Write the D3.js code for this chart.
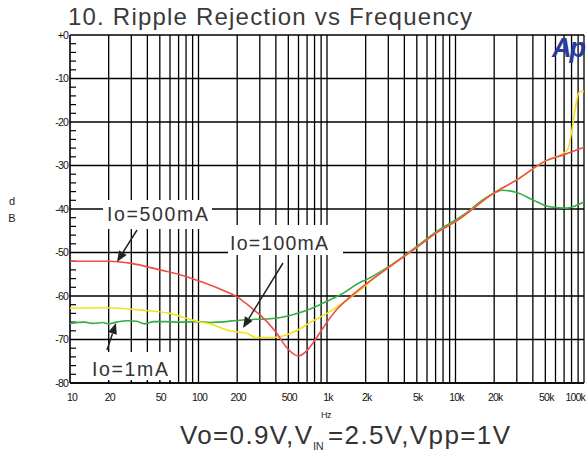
<!DOCTYPE html>
<html><head><meta charset="utf-8">
<script src="https://cdn.jsdelivr.net/npm/d3@7"></script>
<style>
html,body{margin:0;padding:0;background:#fff;}
svg{display:block;font-family:"Liberation Sans",Arial,sans-serif;}
</style></head>
<body><svg id="c" width="586" height="455"></svg>
<script>
// ---- data ----
const xTickValues = [10,20,50,100,200,500,1000,2000,5000,10000,20000,50000,100000];
const xTickLabels = ["10","20","50","100","200","500","1k","2k","5k","10k","20k","50k","100k"];
const yTickValues = [0,-10,-20,-30,-40,-50,-60,-70,-80];
const yTickLabels = ["+0","-10","-20","-30","-40","-50","-60","-70","-80"];

const redFreq = [10,20,30,50,70,100,150,200,265,300,400,500,600,700,800,900,1000,1200,1500,2000,3000,5000,7000,10000,20000,30000,50000,70000,100000];
const redDb   = [-52,-52,-52.5,-54,-55,-56.5,-58.5,-60.2,-63,-64.3,-68.3,-72.3,-73.8,-72.5,-70.3,-68,-66,-63,-60.3,-57.3,-53.5,-48.8,-45.6,-42.9,-36.3,-33.3,-29,-27.5,-25.8];

const yelFreq = [10,20,35,60,100,120,175,240,280,400,550,750,1000,1350,1800,2500,3000,5000,7000,10000,20000,30000,50000,74000,93000,100000];
const yelDb   = [-62.8,-62.7,-63.2,-64,-65.9,-66.3,-68,-68.6,-69.6,-69.5,-68.3,-66,-64,-61.5,-58.7,-55.2,-53.5,-48.8,-45.6,-42.9,-36.3,-33.3,-29,-26.5,-13,-13];

const grnFreq = [10,13,15,18,20,23,28,33,38,45,55,70,100,123,220,400,540,740,1000,1330,1800,2000,3000,5000,7000,10000,12300,15600,20900,23000,30000,40000,54000,73000,85000,100000];
const grnDb   = [-66.3,-66,-66.3,-66.1,-66.4,-66,-65.7,-65.8,-66.4,-65.9,-65.9,-66,-65.9,-66.1,-65.5,-65.1,-64.3,-63,-61.2,-59.4,-56.9,-56.3,-53.3,-48.6,-45.3,-42.5,-40.8,-38.3,-36.1,-35.7,-36.2,-37.9,-39.5,-39.8,-39.3,-38.4];

const seriesNames = ["Io=500mA","Io=100mA","Io=1mA"];

// ---- layout ----
const svg = d3.select("#c");
const x = d3.scaleLog().domain([10,100000]).range([70,584]);
const y = d3.scaleLinear().domain([0,-80]).range([35,383]);

// vertical grid
const minorF = [];
for (let d=10; d<100000; d*=10) for (let k=1;k<=9;k++){ const f=d*k; if(f>10) minorF.push(f);} 
minorF.push(100000);
const g = svg.append("g");
g.selectAll("line.v").data(minorF).join("line")
  .attr("x1",d=>x(d)).attr("x2",d=>x(d)).attr("y1",y(0)).attr("y2",y(-80))
  .attr("stroke","#000").attr("stroke-width",1.3);
// horizontal grid
g.selectAll("line.h").data(yTickValues).join("line")
  .attr("x1",x(10)).attr("x2",x(100000)).attr("y1",d=>y(d)).attr("y2",d=>y(d))
  .attr("stroke","#000").attr("stroke-width",1.3);
// left axis line
g.append("line").attr("x1",x(10)).attr("x2",x(10)).attr("y1",y(0)).attr("y2",y(-80)).attr("stroke","#000").attr("stroke-width",1.6);
// minor y ticks
const yMinor = d3.range(0,-81,-2).filter(v=>v%10!==0);
g.selectAll("line.ym").data(yMinor).join("line")
  .attr("x1",x(10)).attr("x2",x(10)+6).attr("y1",d=>y(d)).attr("y2",d=>y(d))
  .attr("stroke","#000").attr("stroke-width",1.2);

// label boxes (white)
const boxes = [
  {x0:103,x1:212,y0:200,y1:229},
  {x0:228,x1:343,y0:225,y1:255},
  {x0:85,x1:176,y0:352,y1:381}
];
svg.selectAll("rect.b").data(boxes).join("rect")
  .attr("x",d=>d.x0).attr("y",d=>d.y0).attr("width",d=>d.x1-d.x0).attr("height",d=>d.y1-d.y0)
  .attr("fill","#fff");
// bottom axis small ticks inside 1mA box
svg.selectAll("line.bt").data(minorF.filter(f=>x(f)>85&&x(f)<176)).join("line")
  .attr("x1",d=>x(d)).attr("x2",d=>x(d)).attr("y1",y(-80)-3).attr("y2",y(-80))
  .attr("stroke","#000").attr("stroke-width",1.3);
svg.append("line").attr("x1",x(10)).attr("x2",x(100000)).attr("y1",y(-80)).attr("y2",y(-80)).attr("stroke","#000").attr("stroke-width",1.4);

// curves
const line = d3.line().x(d=>x(d[0])).y(d=>y(d[1])).curve(d3.curveMonotoneX);
const series = [
  {f:grnFreq,v:grnDb,c:"#33ad45"},
  {f:yelFreq,v:yelDb,c:"#f2e418"},
  {f:redFreq,v:redDb,c:"#f24a4a"}
];
svg.selectAll("path.s").data(series).join("path")
  .attr("d",s=>line(s.f.map((f,i)=>[f,s.v[i]])))
  .attr("fill","none").attr("stroke",s=>s.c).attr("stroke-width",1.6);

// tick labels
svg.selectAll("text.yl").data(yTickValues).join("text")
  .attr("x",68).attr("y",d=>y(d)+3.5).attr("text-anchor","end")
  .attr("font-size",10.5).attr("letter-spacing",-0.8).attr("fill","#111")
  .text((d,i)=>yTickLabels[i]);
svg.selectAll("text.xl").data(xTickValues).join("text")
  .attr("x",(d,i)=> i===xTickValues.length-1 ? 585 : x(d)+(i===0?2:1))
  .attr("y",401).attr("text-anchor",(d,i)=> i===xTickValues.length-1 ? "end":"middle")
  .attr("font-size",10.5).attr("letter-spacing",-0.8).attr("fill","#111")
  .text((d,i)=>xTickLabels[i]);

// title & axis labels
svg.append("text").attr("x",68).attr("y",25).attr("font-size",24).attr("fill","#3a3a3a")
  .attr("textLength",404).attr("lengthAdjust","spacing").text("10. Ripple Rejection vs Frequency");
svg.append("text").attr("x",12).attr("y",205).attr("font-size",11).attr("text-anchor","middle").attr("fill","#222").text("d");
svg.append("text").attr("x",12).attr("y",222).attr("font-size",11).attr("text-anchor","middle").attr("fill","#222").text("B");
svg.append("text").attr("x",326).attr("y",418).attr("font-size",9).attr("text-anchor","middle").attr("fill","#222").attr("letter-spacing",-0.5).text("Hz");

const bt = svg.append("g").attr("fill","#333");
bt.append("text").attr("x",180).attr("y",444).attr("font-size",26).attr("textLength",132).attr("lengthAdjust","spacing").text("Vo=0.9V,V");
bt.append("text").attr("x",313).attr("y",450).attr("font-size",11).attr("letter-spacing",-0.3).text("IN");
bt.append("text").attr("x",328).attr("y",444).attr("font-size",26).attr("textLength",182).attr("lengthAdjust","spacing").text("=2.5V,Vpp=1V");

// series annotations
const ann = [
  {t:seriesNames[0], x:107, y:221, w:101},
  {t:seriesNames[1], x:230, y:250, w:98},
  {t:seriesNames[2], x:92,  y:376, w:76}
];
svg.selectAll("text.a").data(ann).join("text")
  .attr("x",d=>d.x).attr("y",d=>d.y).attr("font-size",19.5).attr("fill","#333")
  .attr("textLength",d=>d.w).attr("lengthAdjust","spacing").text(d=>d.t);

// arrows
const arrows = [
  {x1:137,y1:230,x2:117,y2:262},
  {x1:283,y1:263,x2:243,y2:328},
  {x1:107,y1:350,x2:116,y2:323}
];
arrows.forEach(a=>{
  const ang = Math.atan2(a.y2-a.y1,a.x2-a.x1);
  const L=11, W=4.5;
  const bx=a.x2-L*Math.cos(ang), by=a.y2-L*Math.sin(ang);
  svg.append("line").attr("x1",a.x1).attr("y1",a.y1).attr("x2",bx).attr("y2",by).attr("stroke","#222").attr("stroke-width",1.5);
  const p=[[a.x2,a.y2],[bx+W*Math.sin(ang),by-W*Math.cos(ang)],[bx-W*Math.sin(ang),by+W*Math.cos(ang)]];
  svg.append("path").attr("d","M"+p.map(q=>q.join(",")).join("L")+"Z").attr("fill","#222");
});

// logo
svg.append("text").attr("x",552).attr("y",57).attr("font-size",27).attr("font-weight","bold").attr("font-style","italic")
  .attr("fill","#2a3a9c").attr("letter-spacing",-2).text("Ap");
</script></body></html>
